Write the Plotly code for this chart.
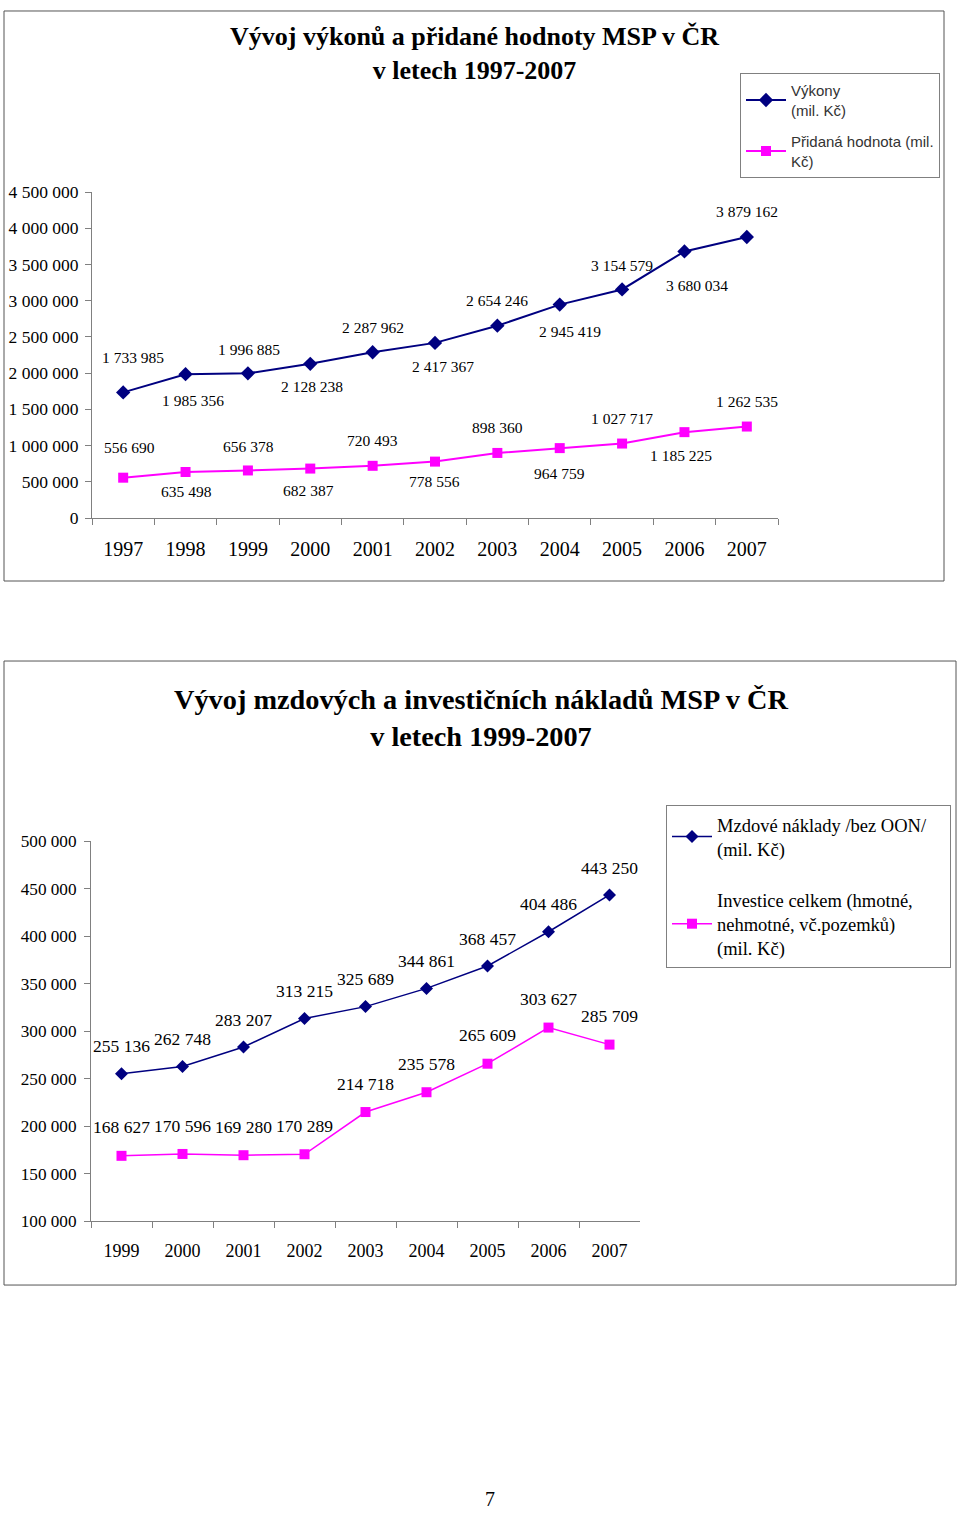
import plotly.graph_objects as go

# ---------------- Data: chart 1 ----------------
years1 = ["1997", "1998", "1999", "2000", "2001", "2002", "2003", "2004", "2005", "2006", "2007"]
vykony = [1733985, 1985356, 1996885, 2128238, 2287962, 2417367, 2654246, 2945419, 3154579, 3680034, 3879162]
pridana = [556690, 635498, 656378, 682387, 720493, 778556, 898360, 964759, 1027717, 1185225, 1262535]
y1_ticks = [0, 500000, 1000000, 1500000, 2000000, 2500000, 3000000, 3500000, 4000000, 4500000]

# ---------------- Data: chart 2 ----------------
years2 = ["1999", "2000", "2001", "2002", "2003", "2004", "2005", "2006", "2007"]
mzdove = [255136, 262748, 283207, 313215, 325689, 344861, 368457, 404486, 443250]
investice = [168627, 170596, 169280, 170289, 214718, 235578, 265609, 303627, 285709]
y2_ticks = [100000, 150000, 200000, 250000, 300000, 350000, 400000, 450000, 500000]

NAVY = "#000080"
MAG = "#FF00FF"
SERIF = "Liberation Serif"
AXC = "#808080"

def fmt(v):
    return f"{v:,}".replace(",", " ")

W, H = 960, 1518
# vertical calibration of the capture (measured): shown = S * fig + OFF
S, OFF = 0.9868, 9.0

def px(x):
    return x / W

def py(y_ref):
    fy = max((y_ref - OFF) / S, 1.0)
    return 1 - fy / H

def sh(v):
    return v / S

fig = go.Figure()

fig.add_trace(go.Scatter(x=years1, y=vykony, mode="lines+markers", name="Výkony<br>(mil. Kč)",
                         line=dict(color=NAVY, width=2), marker=dict(symbol="diamond", size=11, color=NAVY),
                         xaxis="x", yaxis="y", legend="legend", legendgroup="a"))
fig.add_trace(go.Scatter(x=years1, y=pridana, mode="lines+markers", name="Přidaná hodnota (mil.<br>Kč)",
                         line=dict(color=MAG, width=2), marker=dict(symbol="square", size=10, color=MAG),
                         xaxis="x", yaxis="y", legend="legend", legendgroup="b"))
fig.add_trace(go.Scatter(x=years2, y=mzdove, mode="lines+markers",
                         name="Mzdové náklady /bez OON/&nbsp;&nbsp;&nbsp;&nbsp;<br>(mil. Kč)",
                         line=dict(color=NAVY, width=1.5), marker=dict(symbol="diamond", size=10, color=NAVY),
                         xaxis="x2", yaxis="y2", legend="legend2", legendgroup="c"))
fig.add_trace(go.Scatter(x=years2, y=investice, mode="lines+markers",
                         name="Investice celkem (hmotné,<br>nehmotné, vč.pozemků)<br>(mil. Kč)",
                         line=dict(color=MAG, width=1.5), marker=dict(symbol="square", size=10, color=MAG),
                         xaxis="x2", yaxis="y2", legend="legend2", legendgroup="d"))

ann = []
shifts_v = [34, -26, 24, -22, 24, -23, 25, -27, 24, -34, 25]
xsh_v = [10, 7, 1, 2, 0, 8, 0, 10, 0, 13, 0]
shifts_p = [30, -19, 24, -22, 25, -20, 25, -25, 25, -23, 25]
xsh_p = [6, 1, 1, -2, 0, -1, 0, 0, 0, -3, 0]
for i in range(len(years1)):
    ann.append(dict(x=i, y=vykony[i], xref="x", yref="y", text=fmt(vykony[i]), showarrow=False,
                    xanchor="center", yanchor="middle",
                    yshift=sh(shifts_v[i]), xshift=xsh_v[i], font=dict(family=SERIF, size=15.5, color="black")))
    ann.append(dict(x=i, y=pridana[i], xref="x", yref="y", text=fmt(pridana[i]), showarrow=False,
                    xanchor="center", yanchor="middle",
                    yshift=sh(shifts_p[i]), xshift=xsh_p[i], font=dict(family=SERIF, size=15.5, color="black")))
for i in range(len(years2)):
    ann.append(dict(x=i, y=mzdove[i], xref="x2", yref="y2", text=fmt(mzdove[i]), showarrow=False,
                    xanchor="center", yanchor="middle",
                    yshift=sh(27), font=dict(family=SERIF, size=17.5, color="black")))
    ann.append(dict(x=i, y=investice[i], xref="x2", yref="y2", text=fmt(investice[i]), showarrow=False,
                    xanchor="center", yanchor="middle",
                    yshift=sh(28), font=dict(family=SERIF, size=17.5, color="black")))

ann.append(dict(x=px(474), y=py(52), xref="paper", yref="paper", showarrow=False,
                xanchor="center", yanchor="middle",
                text="<b>Vývoj výkonů a přidané hodnoty MSP v ČR<br>v letech 1997-2007</b>",
                font=dict(family=SERIF, size=26, color="black"), align="center"))
ann.append(dict(x=px(481), y=py(717), xref="paper", yref="paper", showarrow=False,
                xanchor="center", yanchor="middle",
                text="<b>Vývoj mzdových a investičních nákladů MSP v ČR<br>v letech 1999-2007</b>",
                font=dict(family=SERIF, size=28.3, color="black"), align="center"))
ann.append(dict(x=px(490), y=0, xref="paper", yref="paper", showarrow=False,
                xanchor="center", yanchor="bottom", yshift=-4,
                text="7", font=dict(family=SERIF, size=20, color="black")))

shapes = [
    dict(type="rect", xref="paper", yref="paper", x0=px(4), x1=px(944), y0=py(580), y1=py(2),
         line=dict(color="#555555", width=1)),
    dict(type="rect", xref="paper", yref="paper", x0=px(4), x1=px(956), y0=py(1284), y1=py(660),
         line=dict(color="#555555", width=1)),
]

axis_common = dict(showgrid=False, zeroline=False, showline=True, linecolor=AXC, linewidth=1,
                   ticks="outside", tickcolor=AXC, ticklen=6)

fig.update_layout(
    width=W, height=H, margin=dict(l=0, r=0, t=0, b=0),
    paper_bgcolor="white", plot_bgcolor="white",
    annotations=ann, shapes=shapes,
    xaxis=dict(domain=[px(92), px(778)], anchor="y", type="category", range=[-0.5, 10.5],
               tickson="boundaries", ticklabelstandoff=13,
               tickfont=dict(family=SERIF, size=20, color="black"), **axis_common),
    yaxis=dict(domain=[py(517), py(191)], anchor="x", range=[0, 4500000], tickvals=y1_ticks,
               ticktext=[fmt(v) for v in y1_ticks], ticklabelstandoff=3,
               tickfont=dict(family=SERIF, size=17.5, color="black"), **axis_common),
    xaxis2=dict(domain=[px(91), px(640)], anchor="y2", type="category", range=[-0.5, 8.5],
                tickson="boundaries", ticklabelstandoff=13,
                tickfont=dict(family=SERIF, size=18, color="black"), **axis_common),
    yaxis2=dict(domain=[py(1220), py(840)], anchor="x2", range=[100000, 500000], tickvals=y2_ticks,
                ticktext=[fmt(v) for v in y2_ticks], ticklabelstandoff=4,
                tickfont=dict(family=SERIF, size=17.2, color="black"), **axis_common),
    legend=dict(x=px(740), y=py(72), xanchor="left", yanchor="top", bordercolor="#808080", borderwidth=1,
                bgcolor="white", font=dict(family="Liberation Sans", size=15, color="#333333"),
                tracegroupgap=9, itemwidth=40, traceorder="grouped"),
    legend2=dict(x=px(666), y=py(804), xanchor="left", yanchor="top", bordercolor="#808080", borderwidth=1,
                 bgcolor="white", font=dict(family=SERIF, size=18.5, color="black"),
                 tracegroupgap=24, itemwidth=40, traceorder="grouped"),
    showlegend=True,
)

fig.write_html("out.html", config={"displayModeBar": False},
               post_script=("document.documentElement.style.margin='0';"
                            "document.body.style.margin='0';"
                            "document.documentElement.style.overflow='hidden';"
                            "document.body.style.overflow='hidden';"))
